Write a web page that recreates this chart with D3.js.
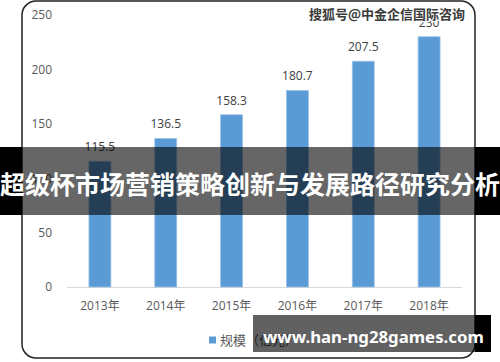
<!DOCTYPE html>
<html>
<head>
<meta charset="utf-8">
<script src="https://cdn.jsdelivr.net/npm/d3@7"></script>
<style>
  html, body { margin: 0; padding: 0; background: #fff; }
  svg { display: block; }
</style>
</head>
<body>
<div id="chart"></div>
<script>
// chart data
const years = ["2013年", "2014年", "2015年", "2016年", "2017年", "2018年"];
const scale = [115.5, 136.5, 158.3, 180.7, 207.5, 230];
const yTicks = [0, 50, 100, 150, 200, 250];
const legendLabel = "规模（亿元）";
const titleText = "超级杯市场营销策略创新与发展路径研究分析";
const watermark = "搜狐号@中金企信国际咨询";
const urlText = "www.han-ng28games.com";

const width = 500, height = 362;
const plot = { left: 67, right: 462, top: 15, bottom: 287 };
const numFont = "'Open Sans', 'Noto Sans CJK SC', sans-serif";
const cjk = "'Noto Sans CJK SC', sans-serif";

const svg = d3.select("#chart").append("svg")
    .attr("width", width).attr("height", height);

// card
svg.append("rect")
    .attr("x", 22).attr("y", 1)
    .attr("width", 453).attr("height", 357)
    .attr("rx", 14)
    .attr("fill", "#fff")
    .attr("stroke", "#222")
    .attr("stroke-width", 1.5);

const x = d3.scaleBand()
    .domain(years)
    .range([plot.left, plot.right])
    .paddingInner(2 / 3)
    .paddingOuter(1 / 3);

const y = d3.scaleLinear()
    .domain([0, 250])
    .range([plot.bottom, plot.top]);

// y axis labels only, no line
const yAxis = svg.append("g")
    .attr("transform", "translate(52,0)")
    .call(d3.axisLeft(y).tickValues(yTicks).tickSize(0).tickPadding(0));
yAxis.select(".domain").remove();
yAxis.selectAll("text")
    .attr("font-family", numFont)
    .attr("font-size", 12)
    .attr("fill", "#595959");

// x axis
const xAxis = svg.append("g")
    .attr("transform", `translate(0,${plot.bottom})`)
    .call(d3.axisBottom(x).tickSize(0).tickPadding(14));
xAxis.select(".domain")
    .attr("stroke", "#d9d9d9")
    .attr("d", `M${plot.left},0.5H${plot.right}`);
xAxis.selectAll("text")
    .attr("font-family", numFont)
    .attr("font-size", 12)
    .attr("fill", "#595959");

// bars
svg.append("g").selectAll("rect")
    .data(scale)
    .join("rect")
    .attr("x", (d, i) => x(years[i]))
    .attr("y", d => y(d))
    .attr("width", x.bandwidth())
    .attr("height", d => plot.bottom - y(d))
    .attr("fill", "#5b9bd5")
    .attr("stroke", "#9cc2e8")
    .attr("stroke-width", 0.8);

// value labels
svg.append("g").selectAll("text")
    .data(scale)
    .join("text")
    .attr("x", (d, i) => x(years[i]) + x.bandwidth() / 2)
    .attr("y", d => y(d) - 10)
    .attr("text-anchor", "middle")
    .attr("font-family", numFont)
    .attr("font-size", 12)
    .attr("fill", "#404040")
    .text(d => d);

// legend
const legend = svg.append("g").attr("transform", "translate(209,340)");
legend.append("rect")
    .attr("x", 0).attr("y", -3.5)
    .attr("width", 7).attr("height", 7)
    .attr("fill", "#5b9bd5");
legend.append("text")
    .attr("x", 11).attr("y", 4.5)
    .attr("font-family", cjk)
    .attr("font-size", 13)
    .attr("fill", "#595959")
    .text(legendLabel);

// watermark
svg.append("text")
    .attr("x", 465).attr("y", 19)
    .attr("text-anchor", "end")
    .attr("font-family", cjk)
    .attr("font-size", 13)
    .attr("font-weight", 700)
    .attr("fill", "#3a3a3a")
    .attr("stroke", "#fff")
    .attr("stroke-width", 2.5)
    .attr("paint-order", "stroke")
    .text(watermark);

// title banner
svg.append("rect").attr("x", 0).attr("y", 147).attr("width", 22).attr("height", 68).attr("fill", "#000");
svg.append("rect").attr("x", 475).attr("y", 147).attr("width", 25).attr("height", 68).attr("fill", "#000");
svg.append("rect").attr("x", 22).attr("y", 147).attr("width", 453).attr("height", 68).attr("fill", "rgba(0,0,0,0.6)");
svg.append("text")
    .attr("x", 250).attr("y", 194)
    .attr("text-anchor", "middle")
    .attr("font-family", cjk)
    .attr("font-size", 25)
    .attr("font-weight", 700)
    .attr("fill", "#fff")
    .text(titleText);

// url banner
svg.append("rect").attr("x", 475).attr("y", 315).attr("width", 16).attr("height", 37).attr("fill", "#000");
svg.append("rect").attr("x", 253).attr("y", 315).attr("width", 222).attr("height", 37).attr("fill", "rgba(0,0,0,0.62)");
svg.append("text")
    .attr("x", 263).attr("y", 342.5)
    .attr("font-family", "'Noto Sans', sans-serif")
    .attr("font-size", 16.8)
    .attr("font-weight", 700)
    .attr("fill", "#fff")
    .text(urlText);
</script>
</body>
</html>
